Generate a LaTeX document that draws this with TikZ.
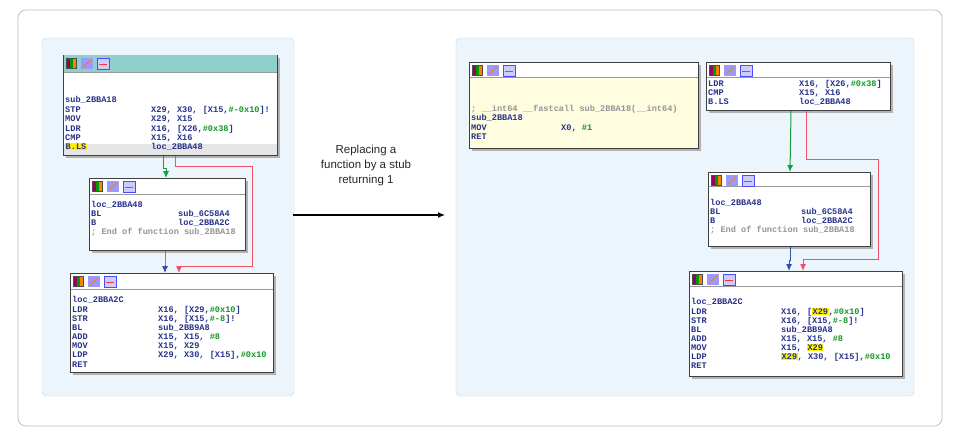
\documentclass[tikz,border=0pt]{standalone}
\usepackage{fontspec}
\setmainfont{Liberation Sans}
\newfontfamily\asmfont{Liberation Mono}
\usetikzlibrary{positioning,calc}
\usetikzlibrary{arrows.meta}
\definecolor{asmblue}{RGB}{40,50,140}
\definecolor{asmnum}{RGB}{20,150,40}
\definecolor{asmgray}{RGB}{150,150,150}
\definecolor{panelfill}{RGB}{236,245,251}
\definecolor{panelline}{RGB}{190,215,235}
\definecolor{headteal}{RGB}{143,208,204}
\definecolor{edgegreen}{RGB}{20,160,60}
\definecolor{edgered}{RGB}{240,80,100}
\definecolor{edgeblue}{RGB}{50,80,170}
\newcommand{\nm}[1]{\textcolor{asmnum}{#1}}
\newcommand{\cm}[1]{\textcolor{asmgray}{#1}}
\newcommand{\hly}[1]{{\setlength{\fboxsep}{0.5pt}\colorbox{yellow}{#1}}}
\tikzset{
  asm/.style={anchor=base west, inner sep=0pt, text=asmblue,
    font=\asmfont\bfseries\fontsize{8.6}{9}\selectfont},
  codebox/.style={draw=black!75, line width=1pt, fill=white, anchor=north west,
    inner sep=0pt},
  shadow/.style={fill=black!30},
  flow/.style={line width=1pt, -{Latex[length=7pt,width=6pt]}}
}
\newcommand{\icons}[2]{%
  \fill[black!70] (#1,#2) rectangle ++(11,11);
  \fill[red!60!blue] (#1+1,#2+1) rectangle ++(3,9);
  \fill[green!60!black] (#1+4,#2+1) rectangle ++(3,9);
  \fill[orange] (#1+7,#2+1) rectangle ++(3,9);
  \fill[blue!40] (#1+15,#2) rectangle ++(12,11);
  \draw[orange, line width=1pt] (#1+17,#2+9) -- (#1+25,#2+2);
  \fill[blue!20] (#1+31,#2) rectangle ++(12,11);
  \draw[blue!70] (#1+31,#2) rectangle ++(12,11);
  \draw[red!80] (#1+33,#2+6) -- (#1+41,#2+6);
}
\begin{document}
\begin{tikzpicture}[x=1pt, y=-1pt]
\useasboundingbox (0,0) rectangle (960,444);
% frame and panels
\draw[black!25, line width=0.8pt, rounded corners=8pt] (18,10) rectangle (942,426);
\draw[panelline, fill=panelfill, rounded corners=4pt] (42,38) rectangle (294,396);
\draw[panelline, fill=panelfill, rounded corners=4pt] (456,38) rectangle (914,396);

% left graph
\fill[shadow] (66,58) rectangle (280,158);
\node (L1) [codebox, minimum width=214pt, minimum height=100pt] at (63,55) {};
\fill[headteal] (63.5,55.5) rectangle (276.5,72);
\fill[black!10] (63.5,144) rectangle (276.5,154.5);
\draw[black!40] (63.5,72) -- (276.5,72);
\icons{66}{58}
\foreach \y/\m/\o in {102/{sub\_2BBA18}/{}, 112/STP/{X29, X30, [X15,\nm{\#-0x10}]!},
  121/MOV/{X29, X15}, 131/LDR/{X16, [X26,\nm{\#0x38}]}, 140/CMP/{X15, X16},
  149/{\hly{B.LS}}/{loc\_2BBA48}}
  {\node[asm] at (65,\y) {\m}; \node[asm] at (151,\y) {\o};}

\fill[shadow] (92,181) rectangle (248,253);
\node (L2) [codebox, minimum width=156pt, minimum height=72pt] at (89,178) {};
\draw[black!40] (89.5,194) -- (244.5,194);
\icons{92}{181}
\foreach \y/\m/\o in {207/{loc\_2BBA48}/{}, 216/BL/{sub\_6C58A4}, 225/B/{loc\_2BBA2C}}
  {\node[asm] at (91,\y) {\m}; \node[asm] at (178,\y) {\o};}
\node[asm] at (91,234) {\cm{; End of function sub\_2BBA18}};

\fill[shadow] (73,276) rectangle (276,375);
\node (L3) [codebox, minimum width=203pt, minimum height=99pt] at (70,273) {};
\draw[black!40] (70.5,289) -- (272.5,289);
\icons{73}{276}
\foreach \y/\m/\o in {302/{loc\_2BBA2C}/{}, 312/LDR/{X16, [X29,\nm{\#0x10}]},
  321/STR/{X16, [X15,\nm{\#-8}]!}, 330/BL/{sub\_2BB9A8}, 339/ADD/{X15, X15, \nm{\#8}},
  348/MOV/{X15, X29}, 357/LDP/{X29, X30, [X15],\nm{\#0x10}}, 367/RET/{}}
  {\node[asm] at (72,\y) {\m}; \node[asm] at (158,\y) {\o};}

\draw[flow, edgegreen] ($(L1.south west)+(100,0)$) |- ++(3,12) -- ($(L2.north west)+(77,0)$);
\draw[flow, edgered] ($(L1.south west)+(112,0)$) |- (252,166) |- (179,266) -- ($(L3.north west)+(109,0)$);
\draw[flow, edgeblue] ($(L2.south west)+(76,0)$) -- ++(0,13) -| ($(L3.north west)+(95,0)$);

% middle
\node (cap) [align=center, font=\fontsize{11.5}{15}\selectfont, text=black!85] at (366,166)
  {Replacing a\\function by a stub\\returning 1};
\coordinate (arrS) at (293,215);
\coordinate (arrE) at (445,215);
\draw[line width=1.2pt, -{Latex[length=7pt,width=6pt]}] (arrS) -- (arrE);

% right graph
\fill[shadow] (472,65) rectangle (701,151);
\node (R1) [codebox, minimum width=229pt, minimum height=86pt, fill=yellow!12] at (469,62) {};
\fill[white] (469.5,62.5) rectangle (697.5,77);
\draw[black!40] (469.5,77) -- (697.5,77);
\icons{472}{65}
\node[asm] at (471,111) {\cm{; \_\_int64 \_\_fastcall sub\_2BBA18(\_\_int64)}};
\foreach \y/\m/\o in {120/{sub\_2BBA18}/{}, 130/MOV/{X0, \nm{\#1}}, 139/RET/{}}
  {\node[asm] at (471,\y) {\m}; \node[asm] at (561,\y) {\o};}

\fill[shadow] (709,65) rectangle (893,113);
\node (R2) [codebox, minimum width=184pt, minimum height=48pt] at (706,62) {};
\draw[black!40] (706.5,77) -- (889.5,77);
\icons{709}{65}
\foreach \y/\m/\o in {86/LDR/{X16, [X26,\nm{\#0x38}]}, 95/CMP/{X15, X16}, 104/B.LS/{loc\_2BBA48}}
  {\node[asm] at (708,\y) {\m}; \node[asm] at (799,\y) {\o};}

\fill[shadow] (711,175) rectangle (873,249);
\node (R3) [codebox, minimum width=162pt, minimum height=74pt] at (708,172) {};
\draw[black!40] (708.5,186) -- (869.5,186);
\icons{711}{175}
\foreach \y/\m/\o in {205/{loc\_2BBA48}/{}, 214/BL/{sub\_6C58A4}, 223/B/{loc\_2BBA2C}}
  {\node[asm] at (710,\y) {\m}; \node[asm] at (801,\y) {\o};}
\node[asm] at (710,232) {\cm{; End of function sub\_2BBA18}};

\fill[shadow] (692,274) rectangle (905,379);
\node (R4) [codebox, minimum width=213pt, minimum height=105pt] at (689,271) {};
\draw[black!40] (689.5,286) -- (901.5,286);
\icons{692}{274}
\foreach \y/\m/\o in {304/{loc\_2BBA2C}/{}, 314/LDR/{X16, [\hly{X29},\nm{\#0x10}]},
  323/STR/{X16, [X15,\nm{\#-8}]!}, 332/BL/{sub\_2BB9A8}, 341/ADD/{X15, X15, \nm{\#8}},
  350/MOV/{X15, \hly{X29}}, 359/LDP/{\hly{X29}, X30, [X15],\nm{\#0x10}}, 368/RET/{}}
  {\node[asm] at (691,\y) {\m}; \node[asm] at (781,\y) {\o};}

\draw[flow, edgegreen] ($(R2.south west)+(85,0)$) -- ($(R3.north west)+(82,0)$);
\draw[flow, edgered] ($(R2.south west)+(100,0)$) |- (878,159) |- (803,259) -- ($(R4.north west)+(114,0)$);
\draw[flow, edgeblue] ($(R3.south west)+(82,0)$) -- ++(0,13) -| ($(R4.north west)+(100,0)$);
\end{tikzpicture}
\end{document}
